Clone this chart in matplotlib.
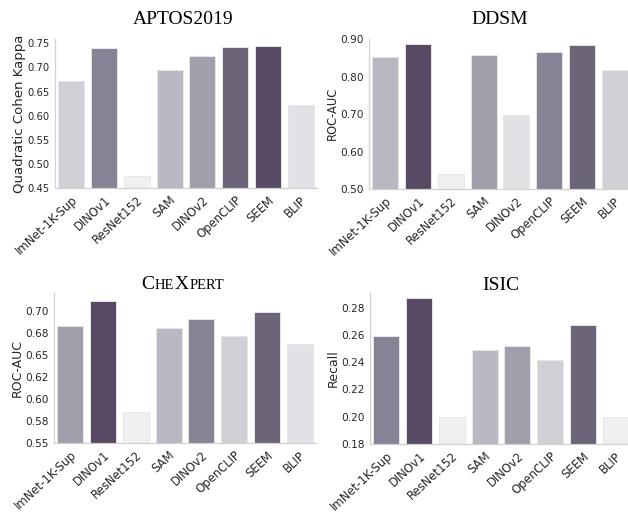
import numpy as np
import matplotlib
matplotlib.use("Agg")
import matplotlib.pyplot as plt

# Model names shared by every panel
models = ["ImNet-1K-Sup", "DINOv1", "ResNet152", "SAM", "DINOv2", "OpenCLIP", "SEEM", "BLIP"]

# Scores per dataset
aptos_kappa = [0.672, 0.741, 0.475, 0.695, 0.724, 0.743, 0.745, 0.622]
ddsm_auc = [0.853, 0.887, 0.539, 0.858, 0.698, 0.867, 0.885, 0.818]
chexpert_auc = [0.683, 0.711, 0.585, 0.680, 0.690, 0.671, 0.699, 0.662]
isic_recall = [0.259, 0.287, 0.200, 0.249, 0.252, 0.242, 0.267, 0.200]

# Y-axis ticks and labels
aptos_ticks = [0.45, 0.50, 0.55, 0.60, 0.65, 0.70, 0.75]
ddsm_ticks = [0.50, 0.60, 0.70, 0.80, 0.90]
chexpert_ticks = [0.550, 0.575, 0.600, 0.625, 0.650, 0.675, 0.700]
chexpert_ticklabels = ["0.55", "0.58", "0.60", "0.62", "0.65", "0.68", "0.70"]
isic_ticks = [0.18, 0.20, 0.22, 0.24, 0.26, 0.28]

# Light-to-dark sequential palette; bars are shaded by their rank
palette = ["#f0f0f2", "#e2e1e6", "#d0d0d6", "#b8b7c2",
           "#a09fab", "#878396", "#6c6479", "#584a64"]

W, H = 628, 514
fig = plt.figure(figsize=(W / 100, H / 100), dpi=100)
plt.rcParams["font.family"] = ["DejaVu Sans"]
TEXT = "#262626"
SPINE = "#d0d0d0"


def px_axes(left, right, top, bottom):
    return fig.add_axes([left / W, (H - bottom) / H, (right - left) / W, (bottom - top) / H])


def rank_colors(values):
    vals = np.asarray(values)
    ranks = [int(np.sum(vals < v)) for v in vals]
    return [palette[r] for r in ranks]


def panel(ax, values, ylim, ticks, ticklabels, ylabel, ylab_size, tick_size):
    x = np.arange(len(models))
    ax.bar(x, np.asarray(values) - ylim[0], bottom=ylim[0], width=0.8,
           color=rank_colors(values), edgecolor="#e6e6e6", linewidth=0.7)
    ax.set_xlim(-0.5, len(models) - 0.5)
    ax.set_ylim(*ylim)
    ax.set_yticks(ticks)
    ax.set_yticklabels(ticklabels if ticklabels else [f"{t:.2f}" for t in ticks],
                       fontsize=tick_size, color=TEXT)
    ax.set_xticks(x)
    ax.set_xticklabels(models, rotation=43, ha="right", rotation_mode="anchor",
                       fontsize=8.4, color=TEXT)
    ax.tick_params(axis="y", length=0, pad=4)
    ax.tick_params(axis="x", length=0, pad=4)
    ax.set_ylabel(ylabel, fontsize=ylab_size, color=TEXT, labelpad=1)
    for s in ("top", "right"):
        ax.spines[s].set_visible(False)
    for s in ("left", "bottom"):
        ax.spines[s].set_color(SPINE)
        ax.spines[s].set_linewidth(0.9)


ax1 = px_axes(55, 317, 39, 188)
panel(ax1, aptos_kappa, (0.45, 0.759), aptos_ticks, None, "Quadratic Cohen Kappa", 9.5, 7.2)
ax2 = px_axes(369, 631, 38.5, 189)
panel(ax2, ddsm_auc, (0.50, 0.902), ddsm_ticks, None, "ROC-AUC", 8.3, 7.6)
ax3 = px_axes(54, 316, 293, 443)
panel(ax3, chexpert_auc, (0.55, 0.72), chexpert_ticks, chexpert_ticklabels, "ROC-AUC", 9.0, 7.6)
ax4 = px_axes(370, 632, 293, 444)
panel(ax4, isic_recall, (0.18, 0.2908), isic_ticks, None, "Recall", 9.0, 7.6)

SERIF = "Liberation Serif"
TSIZE = 14
fig.text(183 / W, (H - 24) / H, "APTOS2019", ha="center", va="baseline",
         fontsize=TSIZE, family=SERIF, color="black")
fig.text(500 / W, (H - 24) / H, "DDSM", ha="center", va="baseline",
         fontsize=TSIZE, family=SERIF, color="black")
fig.text(501 / W, (H - 290) / H, "ISIC", ha="center", va="baseline",
         fontsize=TSIZE, family=SERIF, color="black")

# Small-caps title built from pieces of two sizes
renderer = fig.canvas.get_renderer()
pieces = [("C", TSIZE), ("HE", 10.5), ("X", TSIZE), ("PERT", 10.5)]
objs = []
total = 0.0
for s, size in pieces:
    t = fig.text(0, 0, s, fontsize=size, family=SERIF, va="baseline", ha="left", color="black")
    w = t.get_window_extent(renderer).width
    objs.append((t, w))
    total += w + 0.6
x_px = 183 - total / 2
for t, w in objs:
    t.set_position((x_px / W, (H - 289) / H))
    x_px += w + 0.6

fig.savefig("out.png", dpi=100)
